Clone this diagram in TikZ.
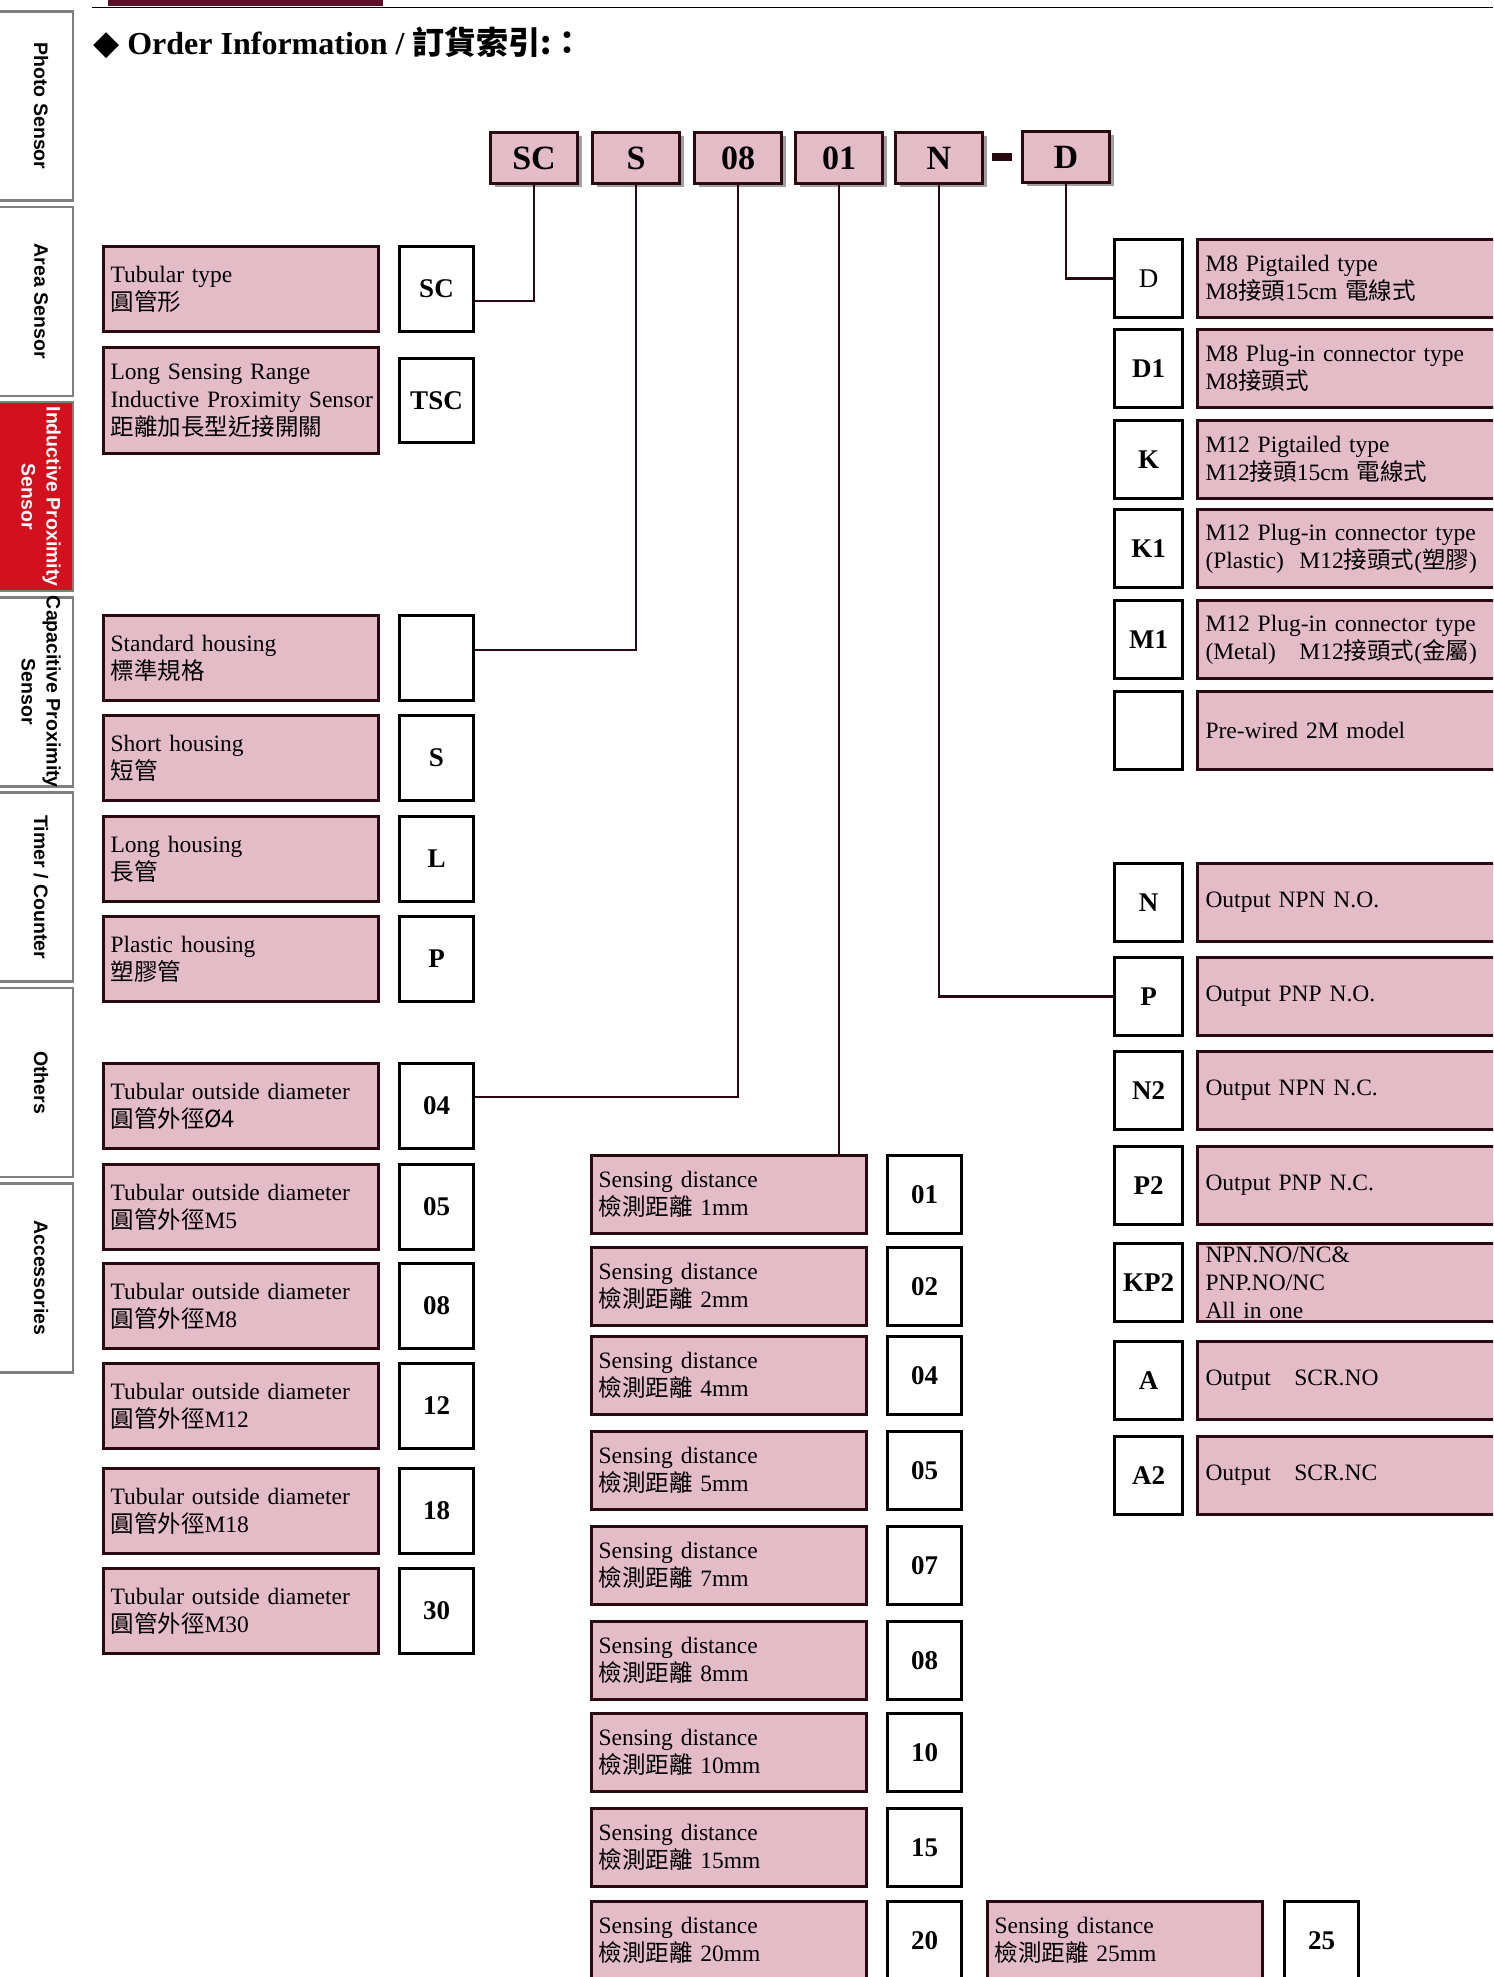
\documentclass[tikz,border=0pt]{standalone}
\usepackage{fontspec}
\setmainfont{Liberation Serif}
\newfontfamily\cjk{Noto Sans CJK TC}
\newfontfamily\tabfont{Liberation Sans}
\newfontfamily\symfont{DejaVu Sans}
\newcommand\zh[1]{{\cjk #1}}
\usepackage{tikz}
\usetikzlibrary{positioning,shadows}
\definecolor{pinkfill}{HTML}{E4BCC8}
\definecolor{pdark}{HTML}{2A0A10}
\definecolor{tabred}{HTML}{D2101E}
\definecolor{tabgray}{HTML}{7F7F7F}
\definecolor{barmaroon}{HTML}{5E0F28}
\tikzset{
  tabBox/.style={%
    draw=tabgray,
    fill=white,
    line width=2.5pt,
    minimum width=84pt,
    minimum height=189pt},
  tabText/.style={%
    rotate=-90,
    align=center,
    font=\tabfont\bfseries\fontsize{19.5}{25}\selectfont},
  codeBox/.style={%
    draw=pdark,
    fill=pinkfill,
    line width=3pt,
    minimum width=87pt,
    minimum height=51pt,
    inner sep=0pt,
    font=\bfseries\fontsize{34}{34}\selectfont,
    drop shadow={shadow xshift=4pt,shadow yshift=-4pt,opacity=0.75}},
  descBox/.style={%
    draw=pdark,
    fill=pinkfill,
    line width=3pt,
    anchor=north west,
    align=left,
    inner ysep=0pt,
    font=\fontsize{23.5}{28}\selectfont},
  descLeft/.style={descBox,inner xsep=7pt,text width=261pt,minimum height=85pt},
  descMid/.style={descBox,inner xsep=7pt,text width=261pt,minimum height=78pt},
  descRight/.style={descBox,inner xsep=8pt,text width=314pt,minimum height=78pt},
  optBox/.style={%
    draw=black,
    fill=white,
    line width=3pt,
    anchor=north west,
    inner sep=0pt,
    font=\bfseries\fontsize{27}{27}\selectfont},
  optLeft/.style={optBox,minimum width=74pt,minimum height=85pt},
  optMid/.style={optBox,minimum width=74pt,minimum height=78pt},
  optRight/.style={optBox,minimum width=68pt,minimum height=78pt},
  connector/.style={draw=pdark,line width=2.5pt},
}

\begin{document}
\begin{tikzpicture}[x=1pt,y=-1pt]
  \useasboundingbox (0,0) rectangle (1493,1977);
  \clip (0,0) rectangle (1493,1977);
  % page header
  \fill[barmaroon] (108,0) rectangle (383,6);
  \draw[line width=1.5pt] (92,7.5) -- (1493,7.5);
  % side tabs
  \foreach \i/\lbl in {0/{Photo Sensor},1/{Area Sensor},3/{Capacitive Proximity\\Sensor},4/{Timer / Counter},5/{Others},6/{Accessories}} {
    \node[tabBox] (tab \i) at (31,106+195.3*\i) {};
    \node[tabText] at (41,106+195.3*\i) {\lbl};
  }
  \node[tabBox,fill=tabred] (tab 2) at (31,496.6) {};
  \node[tabText,text=white] at (41,496.6) {Inductive Proximity\\Sensor};

  % title
  \node[anchor=base west,inner sep=0pt,font=\bfseries\fontsize{32}{36}\selectfont] (title) at (93,55)
    {{\symfont\fontsize{34}{36}\selectfont ◆} Order Information / \zh{訂貨索引:：}};

  % order code
  \node[codeBox] (cSC) at (534,158) {SC};
  \node[codeBox] (cS) at (636,158) {S};
  \node[codeBox] (c08) at (738,158) {08};
  \node[codeBox] (c01) at (839,158) {01};
  \node[codeBox] (cN) at (939,158) {N};
  \node[fill=pdark,minimum width=20pt,minimum height=8pt,inner sep=0pt] (dash) at (1002,157) {};
  \node[codeBox] (cD) at (1066,157) {D};

  % type and housing
  \node[descLeft] (tube) at (102,245) {Tubular type\\\zh{圓管形}};
  \node[optLeft] (oSC) at (398,245) {SC};
  \node[descLeft,minimum height=106pt] (tsc) at (102,346) {Long Sensing Range\\\mbox{Inductive Proximity Sensor}\\\zh{距離加長型近接開關}};
  \node[optLeft,minimum height=84pt] (oTSC) at (398,357) {TSC};
  \node[descLeft] (std) at (102,614) {Standard housing\\\zh{標準規格}};
  \node[optLeft] (oStd) at (398,614) {};
  \node[descLeft] (short) at (102,714) {Short housing\\\zh{短管}};
  \node[optLeft] (oS) at (398,714) {S};
  \node[descLeft] (long) at (102,815) {Long housing\\\zh{長管}};
  \node[optLeft] (oL) at (398,815) {L};
  \node[descLeft] (plastic) at (102,915) {Plastic housing\\\zh{塑膠管}};
  \node[optLeft] (oP) at (398,915) {P};

  % outside diameter
  \foreach \code/\txt/\y in {04/{\zh{圓管外徑Ø4}}/1062,05/{\zh{圓管外徑}M5}/1163,08/{\zh{圓管外徑}M8}/1262,
                             12/{\zh{圓管外徑}M12}/1362,18/{\zh{圓管外徑}M18}/1467,30/{\zh{圓管外徑}M30}/1567} {
    \node[descLeft] (dia \code) at (102,\y) {Tubular outside diameter\\\txt};
    \node[optLeft] (o\code) at (398,\y) {\code};
  }

  % sensing distance
  \foreach \code/\sd/\y in {01/1/1154,02/2/1246,04/4/1335,05/5/1430,07/7/1525,08/8/1620,10/10/1712,15/15/1807,20/20/1900} {
    \node[descMid] (dist \code) at (590,\y) {Sensing distance\\\zh{檢測距離} \sd mm};
    \node[optMid] (m\code) at (886,\y) {\code};
  }
  \node[descMid] (dist 25) at (986,1900) {Sensing distance\\\zh{檢測距離} 25mm};
  \node[optMid] (m25) at (1283,1900) {25};

  % connection
  \node[optRight] (oD) at (1113,238) {\mdseries D};
  \node[descRight] (conD) at (1196,238) {M8 Pigtailed type\\M8\zh{接頭}15cm \zh{電線式}};
  \foreach \code/\txt/\y in {D1/{M8 Plug-in connector type\\M8\zh{接頭式}}/328,
                             K/{M12 Pigtailed type\\M12\zh{接頭}15cm \zh{電線式}}/419,
                             K1/{M12 Plug-in connector type\\(Plastic)\ \ M12\zh{接頭式}(\zh{塑膠})}/508,
                             M1/{M12 Plug-in connector type\\(Metal)\ \ \ M12\zh{接頭式}(\zh{金屬})}/599} {
    \node[optRight] (o\code) at (1113,\y) {\code};
    \node[descRight] (con\code) at (1196,\y) {\txt};
  }
  \node[optRight] (oWire) at (1113,690) {};
  \node[descRight] (conWire) at (1196,690) {Pre-wired 2M model};

  % output
  \foreach \code/\txt/\y in {N/{Output NPN N.O.}/862,P/{Output PNP N.O.}/956,N2/{Output NPN N.C.}/1050,
                             P2/{Output PNP N.C.}/1145,KP2/{NPN.NO/NC\&\\PNP.NO/NC\\All in one}/1242,
                             A/{Output\ \ \ SCR.NO}/1340,A2/{Output\ \ \ SCR.NC}/1435} {
    \node[optRight] (out\code) at (1113,\y) {\code};
    \node[descRight] (outtxt\code) at (1196,\y) {\txt};
  }

  % connectors
  \draw[connector] (cSC.south) |- ([yshift=-12pt]oSC.east);
  \draw[connector] (cS.south) |- ([yshift=8pt]oStd.east);
  \draw[connector] (c08.south) |- ([yshift=9pt]o04.east);
  \draw[connector] (c01.south) -- (c01.south |- dist 01.north);
  \draw[connector] (cN.south) |- (outP.west);
  \draw[connector] (cD.south) |- (oD.west);
\end{tikzpicture}
\end{document}
